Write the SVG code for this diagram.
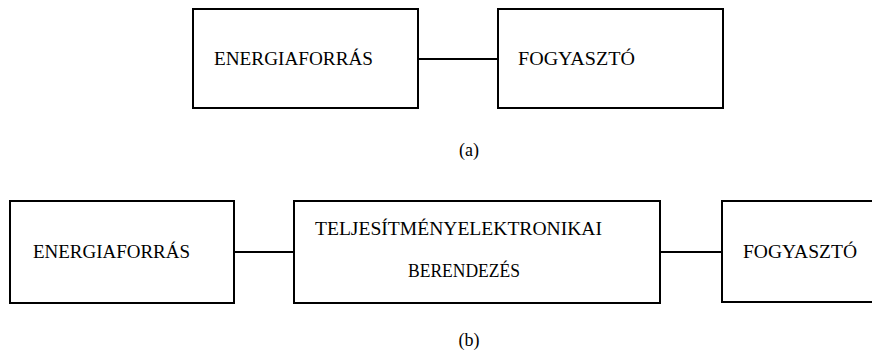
<svg xmlns="http://www.w3.org/2000/svg" width="872" height="354" viewBox="0 0 872 354">
<style>
.box{fill:#fff;stroke:#000;stroke-width:2}
.wire{stroke:#000;stroke-width:2;fill:none}
text{fill:#000}
.cap{text-anchor:middle}
</style>
<rect width="872" height="354" fill="#fff"/>
<g id="connectors">
<line class="wire" x1="418" y1="59" x2="498" y2="59"/>
<line class="wire" x1="234" y1="252" x2="294" y2="252"/>
<line class="wire" x1="660" y1="252" x2="722" y2="252"/>
</g>
<g font-family="'Liberation Serif', 'DejaVu Serif', serif" font-size="19">
<g id="a-source">
<rect class="box" x="193" y="9" width="225" height="99"/>
<text x="214" y="65" textLength="159" lengthAdjust="spacingAndGlyphs">ENERGIAFORRÁS</text>
</g>
<g id="a-load">
<rect class="box" x="498" y="9" width="225" height="99"/>
<text x="518" y="65" textLength="117" lengthAdjust="spacingAndGlyphs">FOGYASZTÓ</text>
</g>
<g id="label-a">
<text class="cap" x="469" y="156" font-size="18">(a)</text>
</g>
<g id="b-source">
<rect class="box" x="10" y="201" width="224" height="102"/>
<text x="33" y="258" textLength="157" lengthAdjust="spacingAndGlyphs">ENERGIAFORRÁS</text>
</g>
<g id="b-converter">
<rect class="box" x="294" y="201" width="366" height="102"/>
<text x="315" y="235" textLength="287" lengthAdjust="spacingAndGlyphs">TELJESÍTMÉNYELEKTRONIKAI</text>
<text x="408" y="277" textLength="112" lengthAdjust="spacingAndGlyphs">BERENDEZÉS</text>
</g>
<g id="b-load">
<rect class="box" x="722" y="201" width="224" height="101"/>
<text x="743" y="258" textLength="114" lengthAdjust="spacingAndGlyphs">FOGYASZTÓ</text>
</g>
<g id="label-b">
<text class="cap" x="469" y="346" font-size="18">(b)</text>
</g>
</g>
</svg>
